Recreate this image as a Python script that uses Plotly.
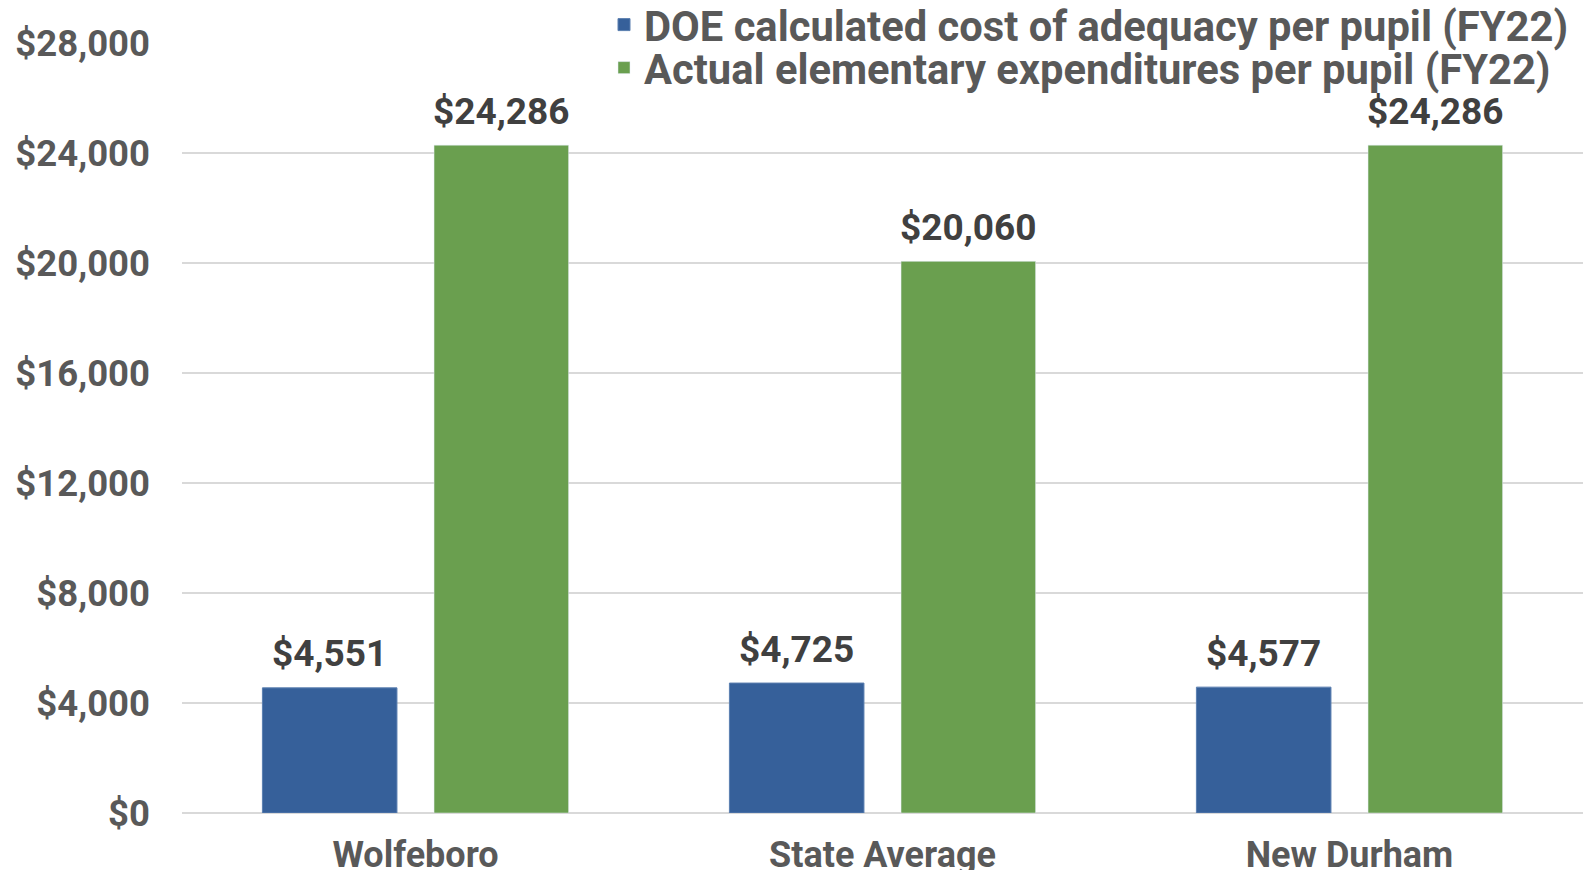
import plotly.graph_objects as go

categories = ["Wolfeboro", "State Average", "New Durham"]
doe_adequacy = [4551, 4725, 4577]
actual_expend = [24286, 20060, 24286]
series_names = ["DOE calculated cost of adequacy per pupil (FY22)",
                "Actual elementary expenditures per pupil (FY22)"]
tick_vals = [0, 4000, 8000, 12000, 16000, 20000, 24000, 28000]
tick_text = ["$0", "$4,000", "$8,000", "$12,000", "$16,000", "$20,000", "$24,000", "$28,000"]

FONT = "Roboto"
W, H = 1584, 870
M_L, M_R, M_T, M_B = 182, 1, 43, 57
BARGAP, GROUPGAP = 0.265, 0.216

fig = go.Figure()
fig.add_trace(go.Bar(
    x=categories, y=doe_adequacy, name=series_names[0], legend="legend",
    marker=dict(color="#36609A", line=dict(color="#5B7FB0", width=1)),
))
fig.add_trace(go.Bar(
    x=categories, y=actual_expend, name=series_names[1], legend="legend2",
    marker=dict(color="#6A9F4F"),
))

# value labels above each bar (offset derived from bar layout)
cat_px = (W - M_L - M_R) / len(categories)
slot_px = cat_px * (1 - BARGAP) / 2
for vals, sign in ((doe_adequacy, -1), (actual_expend, 1)):
    for c, v in zip(categories, vals):
        fig.add_annotation(
            x=c, y=v, text=f"${v:,.0f}", showarrow=False,
            xshift=sign * slot_px / 2, yshift=34, yanchor="middle",
            font=dict(family=FONT, size=37, color="#404040", weight="bold"),
        )

leg_common = dict(
    orientation="v", x=604 / W, xanchor="left", yanchor="middle",
    yref="container", xref="container",
    font=dict(family=FONT, size=41.7, color="#595959", weight="bold"),
    bgcolor="rgba(255,255,255,0)",
)
fig.update_layout(
    width=W, height=H,
    paper_bgcolor="white", plot_bgcolor="white",
    margin=dict(l=M_L, r=M_R, t=M_T, b=M_B, autoexpand=False),
    barmode="group", bargap=BARGAP, bargroupgap=GROUPGAP,
    font=dict(family=FONT, color="#595959"),
    showlegend=True,
    legend=dict(leg_common, y=1 - 25 / H),
    legend2=dict(leg_common, y=1 - 68 / H),
)
fig.update_xaxes(
    showgrid=False, showline=False, ticks="",
    tickfont=dict(family=FONT, size=36, color="#595959", weight="bold"),
    ticklabelstandoff=17,
)
fig.update_yaxes(
    range=[0, 28000], tickvals=tick_vals, ticktext=tick_text,
    showgrid=True, gridcolor="#D9D9D9", gridwidth=2,
    zeroline=True, zerolinecolor="#D9D9D9", zerolinewidth=2,
    showline=False, ticks="",
    tickfont=dict(family=FONT, size=36.5, color="#595959", weight="bold"),
    ticklabelstandoff=31,
)
fig.write_html("out.html", config={"displayModeBar": False},
               post_script="document.body.style.margin='0';document.body.style.overflow='hidden';")
